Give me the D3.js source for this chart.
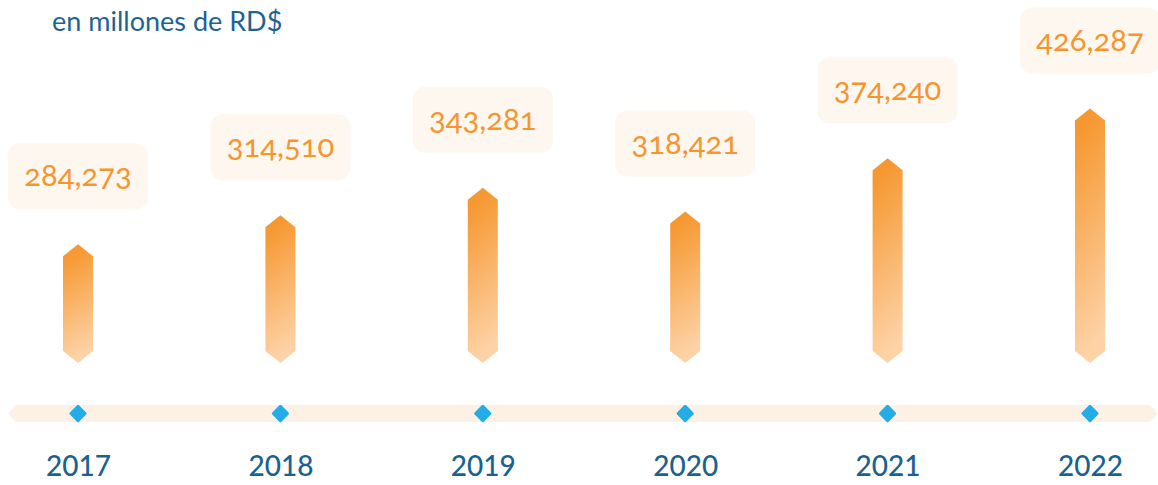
<!DOCTYPE html>
<html>
<head>
<meta charset="utf-8">
<script src="https://cdn.jsdelivr.net/npm/d3@7"></script>
<style>
  body { margin: 0; background: #ffffff; }
  svg { display: block; }
</style>
</head>
<body>
<div id="chart"></div>
<script>
// Data
var years = ["2017", "2018", "2019", "2020", "2021", "2022"];
var values = [284273, 314510, 343281, 318421, 374240, 426287];
var yDomain = [160000, 430000];

var width = 1158, height = 485;

var svg = d3.select("#chart").append("svg")
    .attr("width", width)
    .attr("height", height);

var defs = svg.append("defs");
var grad = defs.append("linearGradient")
    .attr("id", "barGrad")
    .attr("x1", 0).attr("y1", 0).attr("x2", 0.15).attr("y2", 1);
grad.append("stop").attr("offset", "0%").attr("stop-color", "#f6952e");
grad.append("stop").attr("offset", "15%").attr("stop-color", "#f69a35");
grad.append("stop").attr("offset", "100%").attr("stop-color", "#fdd2a6");

// Scales
var x = d3.scalePoint()
    .domain(years)
    .range([78, 1090]);

var y = d3.scaleLinear()
    .domain(yDomain)
    .range([363, 105]);

// Title
svg.append("text")
    .attr("x", 52)
    .attr("y", 31)
    .attr("fill", "#1d6494")
    .style("font-family", "Lato, 'Open Sans', sans-serif")
    .style("font-size", "27px")
    .text("en millones de RD$");

// Timeline band with chamfered ends
var tlTop = 405, tlBot = 422, tlMid = (tlTop + tlBot) / 2;
svg.append("path")
    .attr("d", "M8," + tlMid + " L16," + tlTop + " L1150," + tlTop +
        " L1158," + tlMid + " L1150," + tlBot + " L16," + tlBot + " Z")
    .attr("fill", "#fdf0e5");

var data = years.map(function(d, i) { return {year: d, value: values[i]}; });

var barW = 30, cham = 12;

// Bars with pointed tops and bottoms
svg.append("g").selectAll("path.bar")
    .data(data)
    .enter()
    .append("path")
    .classed("bar", true)
    .attr("fill", "url(#barGrad)")
    .attr("d", function(d) {
        var cx = x(d.year), t = y(d.value), b = y(yDomain[0]);
        var l = cx - barW / 2, r = cx + barW / 2;
        return "M" + cx + "," + t +
            " L" + r + "," + (t + cham) +
            " L" + r + "," + (b - cham) +
            " L" + cx + "," + b +
            " L" + l + "," + (b - cham) +
            " L" + l + "," + (t + cham) + " Z";
    });

// Value label boxes
var labels = svg.append("g").selectAll("g.label")
    .data(data)
    .enter()
    .append("g")
    .classed("label", true)
    .attr("transform", function(d) {
        return "translate(" + x(d.year) + "," + (y(d.value) - 35) + ")";
    });

labels.append("rect")
    .attr("x", -70)
    .attr("y", -66)
    .attr("width", 140)
    .attr("height", 66)
    .attr("rx", 12)
    .attr("fill", "#fef7f0");

labels.append("text")
    .attr("x", 0)
    .attr("y", -23)
    .attr("text-anchor", "middle")
    .attr("fill", "#f6952e")
    .style("font-family", "Lato, 'Open Sans', sans-serif")
    .style("font-size", "31px")
    .style("font-variant-numeric", "oldstyle-nums")
    .text(function(d) { return d3.format(",")(d.value); });

// Diamonds on the timeline
svg.append("g").selectAll("rect.dot")
    .data(data)
    .enter()
    .append("rect")
    .classed("dot", true)
    .attr("x", -6.5)
    .attr("y", -6.5)
    .attr("width", 13)
    .attr("height", 13)
    .attr("rx", 1.5)
    .attr("fill", "#23ace6")
    .attr("transform", function(d) {
        return "translate(" + x(d.year) + "," + tlMid + ") rotate(45)";
    });

// Year axis
var xAxis = d3.axisBottom(x).tickSize(0).tickPadding(0);
var axisG = svg.append("g")
    .attr("transform", "translate(0,456)")
    .call(xAxis);
axisG.select(".domain").remove();
axisG.selectAll("text")
    .attr("fill", "#1a6190")
    .style("font-family", "Lato, 'Open Sans', sans-serif")
    .style("font-size", "28px")
    .style("font-weight", "500");
</script>
</body>
</html>
